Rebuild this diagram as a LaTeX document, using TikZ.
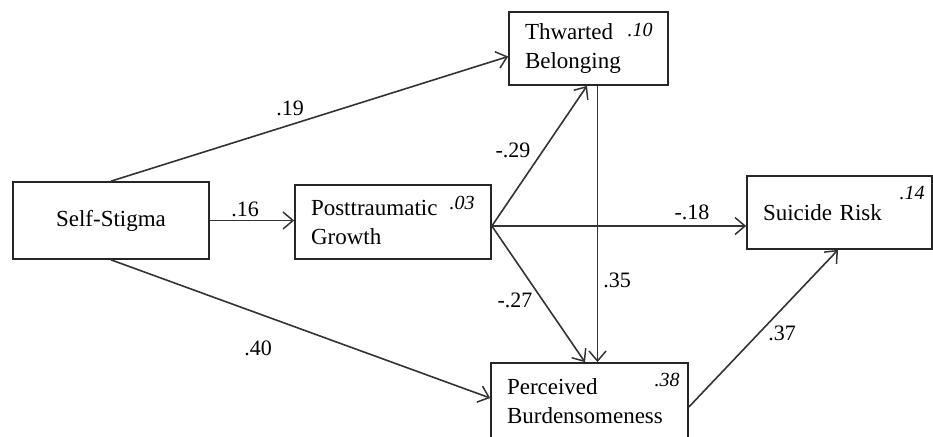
\documentclass[tikz,border=0pt]{standalone}
\usepackage{fontspec}
\setmainfont{Liberation Serif}[Ligatures=TeX]
\usetikzlibrary{arrows.meta,calc}
\begin{document}
\begin{tikzpicture}[x=1pt,y=-1pt,
  box/.style={draw=black!85, line width=1.7pt, rectangle, inner ysep=0pt,
    font=\rmfamily\fontsize{23}{29}\selectfont},
  varbox/.style={box, align=left, inner xsep=16pt, text width=#1},
  pathline/.style={draw=black!80, line width=1.6pt},
  patharrow/.style={pathline, -{Straight Barb[length=10pt,width=17pt,line width=1.5pt]}},
  coef/.style={font=\rmfamily\fontsize{22}{26}\selectfont},
  rsq/.style={font=\rmfamily\itshape\fontsize{20}{22}\selectfont}]
  % page frame
  \clip (0,0) rectangle (933,436);

  % variables
  \node[box, minimum width=196pt, minimum height=77pt] (ss) at (111,220.5) {Self-Stigma};
  \node[varbox=164pt, minimum width=196pt, minimum height=74pt] (pg) at (393,222) {Posttraumatic\\Growth};
  \node[varbox=127pt, minimum width=159pt, minimum height=73pt] (tb) at (588.5,48.5) {Thwarted\\Belonging};
  \node[varbox=165pt, minimum width=197pt, minimum height=76pt] (pb) at (589.5,401) {Perceived\\Burdensomeness};
  \node[varbox=153pt, minimum width=185pt, minimum height=73pt] (sr) at (839.5,212.5) {Suicide Risk};

  % explained variance
  \node[rsq] (r2tb) at (640,30) {.10};
  \node[rsq] (r2pg) at (462,203) {.03};
  \node[rsq] (r2pb) at (667,380) {.38};
  \node[rsq] (r2sr) at (912,193) {.14};

  % paths
  \coordinate (fan) at ([yshift=-4pt]pg.east);
  \draw[patharrow] (ss.north) -- ([yshift=-8pt]tb.west);
  \draw[patharrow] (ss.east) -- (pg.west |- ss.east);
  \draw[patharrow] (ss.south) -- ([yshift=3pt]pb.west);
  \draw[patharrow] (fan) -- ([xshift=-1.5pt]tb.south);
  \draw[patharrow] (fan) -- (fan -| sr.west);
  \draw[patharrow] (fan) -- ([xshift=-4.5pt]pb.north);
  \draw[patharrow] ([xshift=9pt]tb.south) -- ([xshift=9pt]tb.south |- pb.north);
  \draw[patharrow] ([yshift=-6pt]pb.east) -- ([xshift=-1.5pt]sr.south);

  % coefficients
  \node[coef] (c19) at (290,108) {.19};
  \node[coef] (c16) at (245,209) {.16};
  \node[coef] (c40) at (258,348) {.40};
  \node[coef] (c29) at (513,150) {-.29};
  \node[coef] (c27) at (515,300) {-.27};
  \node[coef] (c35) at (617,280) {.35};
  \node[coef] (c18) at (692,212) {-.18};
  \node[coef] (c37) at (782,333) {.37};
\end{tikzpicture}
\end{document}
